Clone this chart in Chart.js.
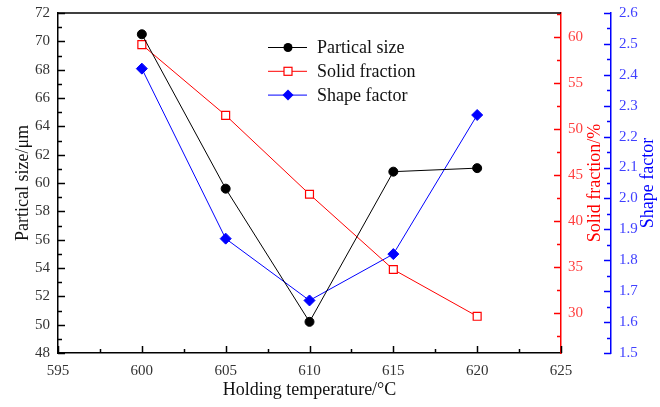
<!DOCTYPE html>
<html>
<head>
<meta charset="utf-8">
<script src="https://cdn.jsdelivr.net/npm/chart.js@4.4.1/dist/chart.umd.min.js"></script>
<style>
  html, body { margin: 0; padding: 0; background: #fff; }
</style>
</head>
<body>
<canvas id="chart" width="660" height="407"></canvas>
<script>
// data
const temps = [600, 605, 610, 615, 620];
const particleSize = [70.5, 59.6, 50.2, 60.8, 61.05];
const solidFraction = [59.2, 51.5, 42.9, 34.7, 29.6];
const shapeFactor = [2.42, 1.87, 1.67, 1.82, 2.27];
const seriesNames = ['Partical size', 'Solid fraction', 'Shape factor'];

const SERIF = "'Liberation Serif', 'DejaVu Serif', serif";

const toPoints = (ys) => temps.map((t, i) => ({ x: t, y: ys[i] }));

// fixed axis widths; drop the label overflow padding so the plot top sits at 13px
const fixWidth = (w) => (s) => { s.width = w; s.paddingTop = 0; s.paddingBottom = 0; };

// inward tick marks (major + minor) for every axis
const tickPlugin = {
  id: 'inwardTicks',
  afterDraw(chart) {
    const ctx = chart.ctx;
    const defs = [
      { id: 'x', color: '#000', dir: -1, horiz: true },
      { id: 'y', color: '#000', dir: 1 },
      { id: 'y2', color: '#ff0000', dir: -1 },
      { id: 'y3', color: '#0000ff', dir: -1 }
    ];
    ctx.save();
    defs.forEach(d => {
      const s = chart.scales[d.id];
      const vals = s.ticks.map(t => t.value);
      const step = vals[1] - vals[0];
      const minors = [];
      for (let i = 0; i < vals.length - 1; i++) minors.push((vals[i] + vals[i + 1]) / 2);
      if (vals[0] - step / 2 >= s.min) minors.push(vals[0] - step / 2);
      if (vals[vals.length - 1] + step / 2 <= s.max) minors.push(vals[vals.length - 1] + step / 2);
      ctx.strokeStyle = d.color;
      ctx.lineWidth = 1.5;
      const edge = d.horiz ? s.top : (d.id === 'y' ? s.right : s.left);
      const mark = (v, len) => {
        const p = Math.round(s.getPixelForValue(v)) + 0.5;
        ctx.beginPath();
        if (d.horiz) { ctx.moveTo(p, edge); ctx.lineTo(p, edge + d.dir * len); }
        else { ctx.moveTo(edge, p); ctx.lineTo(edge + d.dir * len, p); }
        ctx.stroke();
      };
      vals.forEach(v => mark(v, 7));
      minors.forEach(v => mark(v, 4));
    });
    // top frame line
    const a = chart.chartArea;
    ctx.strokeStyle = '#000';
    ctx.beginPath();
    ctx.moveTo(a.left, a.top);
    ctx.lineTo(a.right, a.top);
    ctx.stroke();
    ctx.restore();
  }
};

// right-hand axis titles (read bottom to top) and the legend box
const annotPlugin = {
  id: 'annot',
  afterDraw(chart) {
    const ctx = chart.ctx;
    const a = chart.chartArea;
    const midY = (a.top + a.bottom) / 2;
    ctx.save();
    ctx.font = '18px ' + SERIF;
    ctx.textAlign = 'center';
    ctx.textBaseline = 'middle';
    const vtitle = (text, x, color) => {
      ctx.save();
      ctx.translate(x, midY);
      ctx.rotate(-Math.PI / 2);
      ctx.fillStyle = color;
      ctx.fillText(text, 0, 0);
      ctx.restore();
    };
    vtitle('Solid fraction/%', chart.scales.y2.right - 16, '#ff0000');
    vtitle('Shape factor', chart.scales.y3.right - 12, '#0000ff');

    // legend
    const styles = [
      { color: '#000', shape: 'circle' },
      { color: '#ff0000', shape: 'rect' },
      { color: '#0000ff', shape: 'diamond' }
    ];
    ctx.textAlign = 'left';
    styles.forEach((st, i) => {
      const y = 47.5 + i * 23.8;
      ctx.strokeStyle = st.color;
      ctx.lineWidth = 1;
      ctx.beginPath();
      ctx.moveTo(268, y);
      ctx.lineTo(307, y);
      ctx.stroke();
      ctx.beginPath();
      if (st.shape === 'circle') {
        ctx.arc(288, y, 4.5, 0, Math.PI * 2);
        ctx.fillStyle = st.color;
        ctx.fill();
      } else if (st.shape === 'rect') {
        ctx.fillStyle = '#fff';
        ctx.fillRect(284, y - 4, 8, 8);
        ctx.lineWidth = 1.2;
        ctx.strokeRect(284, y - 4, 8, 8);
      } else {
        ctx.moveTo(288, y - 5.5);
        ctx.lineTo(293.5, y);
        ctx.lineTo(288, y + 5.5);
        ctx.lineTo(282.5, y);
        ctx.closePath();
        ctx.fillStyle = st.color;
        ctx.fill();
      }
      ctx.fillStyle = '#111';
      ctx.fillText(seriesNames[i], 317, y + 1);
    });
    ctx.restore();
  }
};

const tickFont = { family: SERIF, size: 15 };

new Chart(document.getElementById('chart').getContext('2d'), {
  type: 'line',
  data: {
    datasets: [
      {
        label: seriesNames[0],
        data: toPoints(particleSize),
        yAxisID: 'y',
        borderColor: '#000',
        borderWidth: 1,
        pointStyle: 'circle',
        pointRadius: 4.5,
        pointBackgroundColor: '#000',
        pointBorderColor: '#000'
      },
      {
        label: seriesNames[1],
        data: toPoints(solidFraction),
        yAxisID: 'y2',
        borderColor: '#ff0000',
        borderWidth: 1,
        pointStyle: 'rect',
        pointRadius: 5.6,
        pointBorderWidth: 1.2,
        pointBackgroundColor: '#fff',
        pointBorderColor: '#ff0000'
      },
      {
        label: seriesNames[2],
        data: toPoints(shapeFactor),
        yAxisID: 'y3',
        borderColor: '#0000ff',
        borderWidth: 1,
        pointStyle: 'rectRot',
        pointRadius: 5.5,
        pointBackgroundColor: '#0000ff',
        pointBorderColor: '#0000ff'
      }
    ]
  },
  options: {
    responsive: false,
    animation: false,
    layout: { padding: { top: 13, left: 0, right: 0, bottom: 0 } },
    plugins: {
      legend: { display: false },
      tooltip: { enabled: false }
    },
    scales: {
      x: {
        type: 'linear',
        position: 'bottom',
        min: 595,
        max: 625,
        afterFit: (s) => { s.height = 54; s.paddingLeft = 0; s.paddingRight = 0; },
        ticks: { stepSize: 5, color: '#333', font: tickFont, padding: 9, maxRotation: 0 },
        grid: { display: false, drawTicks: false },
        border: { color: '#000', width: 1.5 },
        title: {
          display: true,
          text: 'Holding temperature/°C',
          color: '#111',
          font: { family: SERIF, size: 18 },
          padding: { top: 0, bottom: 6 }
        }
      },
      y: {
        position: 'left',
        min: 48,
        max: 72,
        afterFit: fixWidth(58),
        ticks: { stepSize: 2, color: '#333', font: tickFont, padding: 8 },
        grid: { display: false, drawTicks: false },
        border: { color: '#000', width: 1.5 },
        title: {
          display: true,
          text: 'Partical size/μm',
          color: '#111',
          font: { family: SERIF, size: 18 },
          padding: { top: 12, bottom: 0 }
        }
      },
      y2: {
        position: 'right',
        weight: 0,
        min: 25.6,
        max: 62.65,
        afterFit: fixWidth(50),
        ticks: { stepSize: 5, includeBounds: false, color: '#ff4040', font: tickFont, padding: 7 },
        grid: { display: false, drawTicks: false },
        border: { color: '#ff0000', width: 1.5 }
      },
      y3: {
        position: 'right',
        weight: 1,
        min: 1.5,
        max: 2.6,
        afterFit: fixWidth(49),
        ticks: {
          stepSize: 0.1,
          includeBounds: false,
          color: '#4040ff',
          font: tickFont,
          padding: 8,
          callback: (v) => v.toFixed(1)
        },
        grid: { display: false, drawTicks: false },
        border: { color: '#0000ff', width: 1.5 }
      }
    }
  },
  plugins: [tickPlugin, annotPlugin]
});
</script>
</body>
</html>
